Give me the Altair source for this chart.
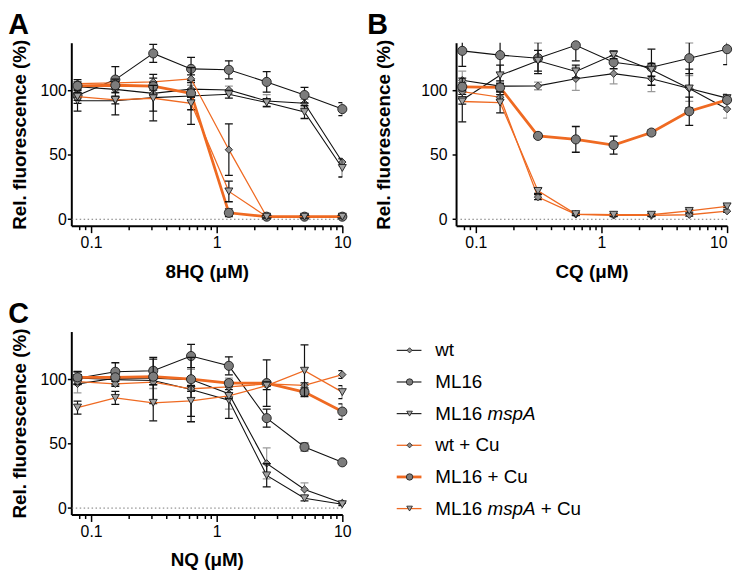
import altair as alt
import pandas as pd

# ---------------- data ----------------
conc = [0.078, 0.156, 0.3125, 0.625, 1.25, 2.5, 5, 10]
series = ["wt", "ML16", "ML16 mspA", "wt + Cu", "ML16 + Cu", "ML16 mspA + Cu"]
panel_letters = ["A", "B", "C"]
compounds = ["8HQ (μM)", "CQ (μM)", "NQ (μM)"]

# Panel A (8HQ)
A_wt = [102.8, 100.8, 97.7, 101.0, 100.3, 91.8, 90.0, 44.4]
A_ml16 = [96.0, 108.4, 128.7, 116.7, 116.0, 106.6, 96.4, 85.5]
A_mspa = [92.0, 92.0, 94.4, 95.7, 97.0, 90.6, 83.2, 39.8]
A_wtcu = [105.3, 105.8, 106.6, 109.0, 54.0, 2.0, 2.0, 2.0]
A_ml16cu = [103.5, 104.0, 103.3, 97.7, 5.0, 2.0, 2.0, 2.0]
A_mspacu = [95.2, 92.6, 93.9, 90.0, 21.6, 2.0, 2.0, 2.0]
A_err_wt = [4, 3, 3, 3, 3, 5, 3, 3]
A_err_ml16 = [6, 10, 7, 9, 7, 8, 6, 5]
A_err_mspa = [8, 11, 18, 22, 3, 3, 5, 7]
A_err_wtcu = [3, 3, 3, 3, 20, 1, 1, 1]
A_err_ml16cu = [3, 3, 3, 3, 3, 1, 1, 1]
A_err_mspacu = [3, 3, 10, 5, 8, 1, 1, 1]

# Panel B (CQ)
B_wt = [107.9, 103.3, 103.5, 109.0, 113.0, 109.0, 101.5, 85.5]
B_ml16 = [130.7, 127.4, 125.0, 135.0, 121.8, 118.0, 125.0, 132.0]
B_mspa = [92.6, 111.7, 123.0, 114.7, 127.6, 116.0, 101.5, 94.0]
B_wtcu = [99.0, 94.7, 17.2, 3.8, 3.0, 3.0, 3.5, 6.3]
B_ml16cu = [102.8, 102.3, 64.7, 62.0, 57.6, 67.3, 83.8, 92.6]
B_mspacu = [91.4, 90.6, 22.0, 4.0, 3.5, 3.5, 6.5, 10.0]
B_err_wt = [7, 3, 3, 9, 8, 10, 10, 7]
B_err_ml16 = [12, 20, 12, 12, 5, 14, 12, 12]
B_err_mspa = [17, 8, 8, 5, 3, 5, 15, 3]
B_err_wtcu = [2, 2, 2, 1, 1, 1, 1, 1]
B_err_ml16cu = [3, 3, 2, 10, 7, 2, 11, 2]
B_err_mspacu = [2, 8, 2, 1, 1, 1, 1, 1]

# Panel C (NQ)
C_wt = [96.4, 100.8, 100.8, 99.7, 88.8, 34.7, 14.5, 4.0]
C_ml16 = [100.8, 105.8, 106.6, 118.0, 110.4, 69.8, 47.4, 35.5]
C_mspa = [101.0, 99.7, 99.0, 92.0, 83.7, 25.4, 7.6, 3.0]
C_wtcu = [98.2, 96.4, 97.8, 92.6, 94.0, 96.4, 95.2, 103.6]
C_ml16cu = [101.5, 101.5, 102.0, 100.0, 97.0, 97.0, 90.0, 74.9]
C_mspacu = [78.0, 85.5, 81.7, 83.2, 87.0, 95.0, 106.6, 90.0]
C_err_wt = [7, 4, 8, 8, 12, 12, 5, 1]
C_err_ml16 = [5, 7, 9, 9, 7, 7, 3, 1]
C_err_mspa = [5, 4, 18, 25, 14, 9, 2, 1]
C_err_wtcu = [2, 2, 2, 2, 2, 2, 2, 3]
C_err_ml16cu = [2, 2, 2, 2, 2, 18, 2, 6]
C_err_mspacu = [5, 5, 14, 12, 2, 3, 20, 5]

panel_values = {
    "A": [A_wt, A_ml16, A_mspa, A_wtcu, A_ml16cu, A_mspacu],
    "B": [B_wt, B_ml16, B_mspa, B_wtcu, B_ml16cu, B_mspacu],
    "C": [C_wt, C_ml16, C_mspa, C_wtcu, C_ml16cu, C_mspacu],
}
panel_errors = {
    "A": [A_err_wt, A_err_ml16, A_err_mspa, A_err_wtcu, A_err_ml16cu, A_err_mspacu],
    "B": [B_err_wt, B_err_ml16, B_err_mspa, B_err_wtcu, B_err_ml16cu, B_err_mspacu],
    "C": [C_err_wt, C_err_ml16, C_err_mspa, C_err_wtcu, C_err_ml16cu, C_err_mspacu],
}

# legend label pieces
legend_main = ["wt", "ML16", "ML16", "wt + Cu", "ML16 + Cu", "ML16"]
legend_italic = ["", "", "mspA", "", "", "mspA"]
legend_suffix = ["", "", "", "", "", "+ Cu"]

# ---------------- styles ----------------
ORANGE = "#ef6a22"
line_color = ["#111111", "#111111", "#111111", ORANGE, ORANGE, ORANGE]
line_width = [1.1, 1.1, 1.1, 1.3, 2.8, 1.3]
shape = ["diamond", "circle", "triangle-down", "diamond", "circle", "triangle-down"]
fill = ["#8e8e8e", "#7c7c7c", "#a2a2a2", "#8e8e8e", "#7c7c7c", "#a2a2a2"]
size = [55, 85, 65, 55, 85, 65]
err_color = ["#9a9a9a", "#111111", "#111111", "#111111", "#111111", "#111111"]

W, H = 274, 185
FONT = "Liberation Sans"
XMAJOR = [0.1, 1, 10]
XMINOR = [0.08, 0.09, 0.2, 0.3, 0.4, 0.5, 0.6, 0.7, 0.8, 0.9,
          2, 3, 4, 5, 6, 7, 8, 9]
XVALUES = sorted(XMAJOR + XMINOR)
MAJOR_TEST = "datum.value == 0.1 || datum.value == 1 || datum.value == 10"

# per panel: (y labelPadding, y titlePadding, title dx, x labelFlush)
panel_layout = {"A": (1, 11, -2, False), "B": (5, 28, -7, True),
                "C": (1, 11, -2, False)}


def xenc(title, flush):
    return alt.X(
        "conc:Q",
        scale=alt.Scale(type="log", domain=[0.0696, 10], nice=False),
        axis=alt.Axis(
            title=title,
            values=XVALUES,
            format="~g",
            labelExpr=f"({MAJOR_TEST}) ? datum.label : ''",
            tickSize={"condition": {"test": MAJOR_TEST, "value": 7}, "value": 4},
            labelPadding=2,
            titlePadding=12,
            labelFlush=flush,
        ),
    )


def yenc(field, lp, tp):
    return alt.Y(
        f"{field}:Q",
        scale=alt.Scale(domain=[-5, 137], nice=False, zero=False),
        axis=alt.Axis(
            title="Rel. fluorescence (%)",
            values=[0, 50, 100],
            tickSize=4,
            labelPadding=lp,
            titlePadding=tp,
        ),
    )


def panel(letter, xtitle):
    lp, tp, tdx, flush = panel_layout[letter]
    rows = []
    for i, s in enumerate(series):
        v = panel_values[letter][i]
        e = panel_errors[letter][i]
        for c, val, err in zip(conc, v, e):
            rows.append({"series": s, "conc": c, "value": val,
                         "lo": val - err, "hi": val + err})
    df = pd.DataFrame(rows)

    X = xenc(xtitle, flush)
    layers = [
        alt.Chart(pd.DataFrame({"value": [0]}))
        .mark_rule(color="#777777", strokeDash=[1.5, 2.5], strokeWidth=1)
        .encode(y=yenc("value", lp, tp))
    ]
    for i, s in enumerate(series):
        sub = df[df["series"] == s]
        base = alt.Chart(sub)
        layers.append(
            base.mark_rule(color=err_color[i], strokeWidth=1.2, clip=True)
            .encode(x=X, y=yenc("lo", lp, tp), y2="hi")
        )
        for f in ["lo", "hi"]:
            layers.append(
                base.mark_point(shape="stroke", size=64, color=err_color[i],
                                strokeWidth=1.3, filled=False, opacity=1,
                                clip=True)
                .encode(x=X, y=yenc(f, lp, tp))
            )
        layers.append(
            base.mark_line(color=line_color[i], strokeWidth=line_width[i])
            .encode(x=X, y=yenc("value", lp, tp))
        )
        layers.append(
            base.mark_point(shape=shape[i], filled=True, fill=fill[i],
                            stroke="#1a1a1a", strokeWidth=0.9, size=size[i],
                            opacity=1, fillOpacity=1)
            .encode(x=X, y=yenc("value", lp, tp))
        )
    return alt.layer(*layers).properties(
        width=W, height=H,
        title=alt.TitleParams(letter, anchor="start", fontSize=29,
                              fontWeight="bold", font=FONT, dx=tdx, offset=-1,
                              color="black"),
    )


def legend_chart():
    ldf = pd.DataFrame({"series": series, "main": legend_main,
                        "ital": legend_italic, "suf": legend_suffix})
    yl = alt.Y("series:N", sort=series,
               scale=alt.Scale(type="point", domain=series, range=[19, 179],
                               padding=0),
               axis=None)
    layers = []
    for i, s in enumerate(series):
        sub = ldf[ldf["series"] == s]
        b = alt.Chart(sub)
        layers.append(b.mark_rule(color=line_color[i], strokeWidth=line_width[i])
                      .encode(y=yl, x=alt.value(-60), x2=alt.value(-35)))
        layers.append(b.mark_point(shape=shape[i], filled=True, fill=fill[i],
                                   stroke="#1a1a1a", strokeWidth=0.8,
                                   size=size[i] * 0.5, opacity=1)
                      .encode(y=yl, x=alt.value(-47)))
    base = alt.Chart(ldf)
    tx = -21
    layers.append(base.mark_text(align="left", baseline="middle", fontSize=19,
                                 font=FONT, color="black")
                  .encode(y=yl, x=alt.value(tx), text="main:N"))
    layers.append(base.transform_filter("datum.ital != ''")
                  .mark_text(align="left", baseline="middle", fontSize=19,
                             font=FONT, fontStyle="italic", color="black")
                  .encode(y=yl, x=alt.value(tx + 52.8), text="ital:N"))
    layers.append(base.transform_filter("datum.suf != ''")
                  .mark_text(align="left", baseline="middle", fontSize=19,
                             font=FONT, color="black")
                  .encode(y=yl, x=alt.value(tx + 106.7), text="suf:N"))
    return alt.layer(*layers).properties(width=W, height=H)


chart = alt.ConcatChart(
    concat=[panel("A", compounds[0]), panel("B", compounds[1]),
            panel("C", compounds[2]), legend_chart()],
    columns=2,
    spacing={"row": 107, "column": 115},
    bounds="flush",
).properties(
    padding={"left": 0, "top": 0, "right": 0, "bottom": 0},
).configure(
    font=FONT,
).configure_view(
    stroke=None,
).configure_axis(
    grid=False,
    domainColor="black",
    domainWidth=2,
    tickColor="black",
    tickWidth=1.5,
    labelFont=FONT,
    labelFontSize=16,
    labelColor="black",
    titleFont=FONT,
    titleFontSize=19,
    titleFontWeight="bold",
    titleColor="black",
)

chart.save("out.html", embed_options={"renderer": "svg", "actions": False})
